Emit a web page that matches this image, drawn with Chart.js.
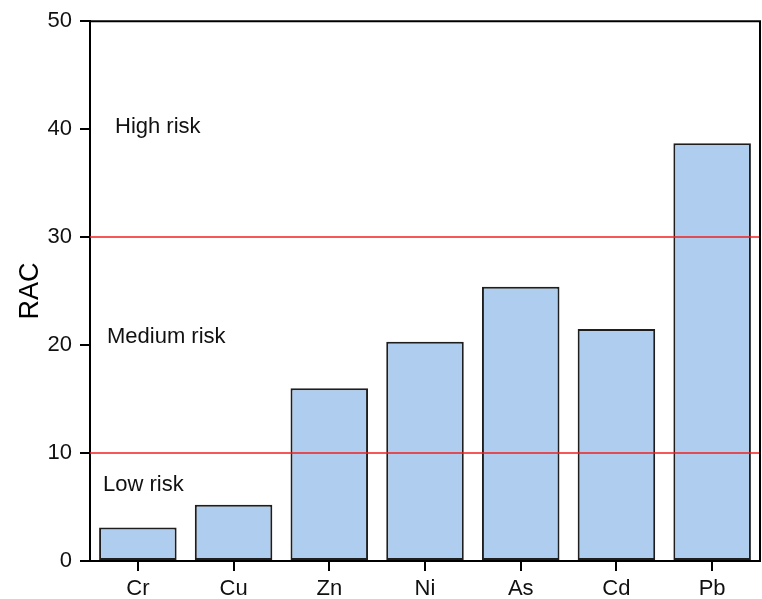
<!DOCTYPE html>
<html>
<head>
<meta charset="utf-8">
<script src="https://cdn.jsdelivr.net/npm/chart.js@4.4.1/dist/chart.umd.min.js"></script>
<style>
  html, body { margin: 0; padding: 0; background: #fff; }
  #wrap { width: 762px; height: 599px; }
</style>
</head>
<body>
<div id="wrap"><canvas id="c" width="762" height="599"></canvas></div>
<script>
// Risk assessment code (RAC, %) per element
const elements = ['Cr', 'Cu', 'Zn', 'Ni', 'As', 'Cd', 'Pb'];
const racValues = [3.1, 5.2, 16.0, 20.3, 25.4, 21.5, 38.7];
const yTicks = [0, 10, 20, 30, 40, 50];
// Risk class thresholds and zone labels
const thresholds = [10, 30];
const zoneLabels = ['Low risk', 'Medium risk', 'High risk'];
const zoneLabelValues = [7, 20.8, 40.2];

const FONT = 'Liberation Sans, Arial, Helvetica, sans-serif';

const framePlugin = {
  id: 'frame',
  afterDatasetsDraw(chart) {
    const { ctx, chartArea: a, scales } = chart;
    ctx.save();
    // threshold lines
    ctx.strokeStyle = '#f02020';
    ctx.lineWidth = 1.5;
    thresholds.forEach(t => {
      const y = Math.round(scales.y.getPixelForValue(t));
      ctx.beginPath();
      ctx.moveTo(a.left, y);
      ctx.lineTo(a.right, y);
      ctx.stroke();
    });
    // zone labels
    ctx.fillStyle = '#111';
    ctx.font = '22px ' + FONT;
    ctx.textBaseline = 'middle';
    ctx.textAlign = 'left';
    const xOff = [13, 17, 25];
    zoneLabels.forEach((txt, i) => {
      ctx.fillText(txt, a.left + xOff[i], scales.y.getPixelForValue(zoneLabelValues[i]));
    });
    // top and right frame lines
    ctx.strokeStyle = '#000';
    ctx.lineWidth = 2;
    ctx.beginPath();
    ctx.moveTo(a.left, a.top);
    ctx.lineTo(a.right, a.top);
    ctx.lineTo(a.right, a.bottom);
    ctx.stroke();
    ctx.restore();
  }
};

new Chart(document.getElementById('c'), {
  type: 'bar',
  data: {
    labels: elements,
    datasets: [{
      data: racValues,
      backgroundColor: '#aecdef',
      borderColor: '#1e1e1e',
      borderWidth: 2,
      borderSkipped: false,
      barPercentage: 0.81,
      categoryPercentage: 1.0
    }]
  },
  options: {
    responsive: false,
    animation: false,
    layout: { padding: { top: 21, right: 2, left: 0, bottom: 0 } },
    plugins: { legend: { display: false }, tooltip: { enabled: false } },
    scales: {
      x: {
        grid: { display: true, drawOnChartArea: false, offset: false, tickLength: 10, color: '#000', lineWidth: 2 },
        border: { display: true, color: '#000', width: 2 },
        ticks: { color: '#111', font: { family: FONT, size: 22 }, padding: 5 },
        afterFit(s) { s.height = 38; }
      },
      y: {
        min: 0, max: 50,
        afterBuildTicks(s) { s.ticks = yTicks.map(v => ({ value: v })); },
        grid: { display: true, drawOnChartArea: false, tickLength: 10, color: '#000', lineWidth: 2 },
        border: { display: true, color: '#000', width: 2 },
        ticks: { color: '#111', font: { family: FONT, size: 22 }, padding: 8 },
        title: { display: true, text: 'RAC', color: '#000', font: { family: FONT, size: 27 }, padding: { top: 14, bottom: 0 } },
        afterFit(s) { s.width = 90; }
      }
    }
  },
  plugins: [framePlugin]
});
</script>
</body>
</html>
